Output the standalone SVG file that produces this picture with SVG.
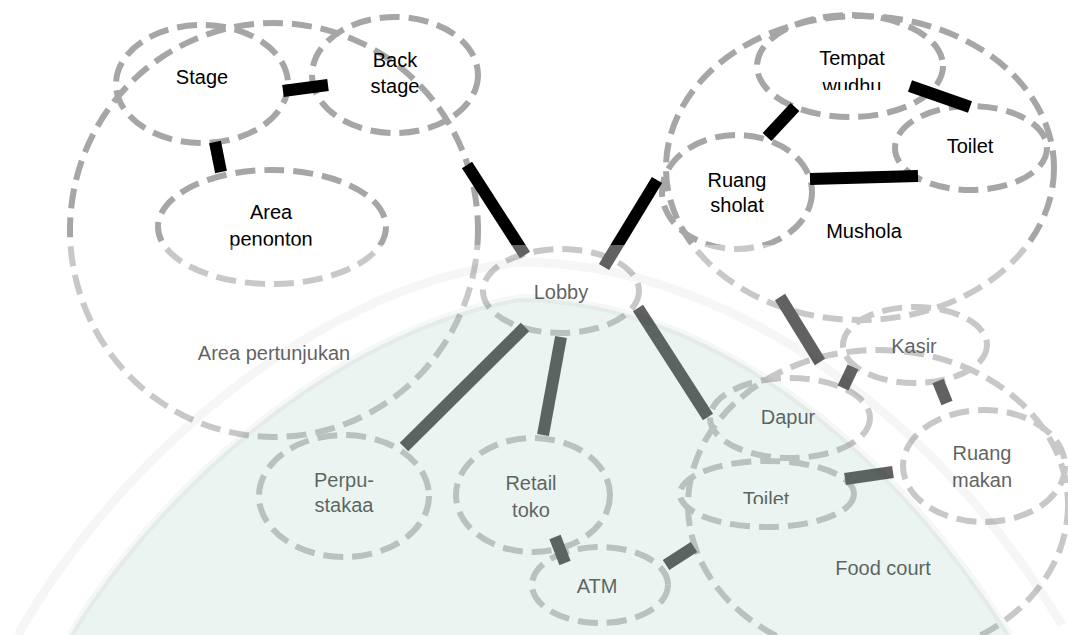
<svg xmlns="http://www.w3.org/2000/svg" width="1068" height="635" viewBox="0 0 1068 635">
  <style>
    .n { fill: none; stroke: #a6a6a6; stroke-width: 6; stroke-dasharray: 20 9; }
    .t { font-family: "Liberation Sans", Arial, sans-serif; font-size: 20px; fill: #000; text-anchor: middle; }
    .c line { stroke: #000; stroke-width: 12; stroke-linecap: butt; }
  </style>
  <defs>
    <clipPath id="clipWudhu"><rect x="780" y="40" width="150" height="50"/></clipPath>
    <clipPath id="clipToilet2"><rect x="700" y="470" width="140" height="34"/></clipPath>
  </defs>
  <rect width="1068" height="635" fill="#ffffff"/>

  <g id="area-pertunjukan">
    <ellipse class="n" cx="274" cy="230" rx="204" ry="207"/>
    <text class="t" x="274" y="360">Area pertunjukan</text>
  </g>
  <g id="mushola">
    <ellipse class="n" cx="860" cy="168" rx="194" ry="152"/>
    <text class="t" x="864" y="238">Mushola</text>
  </g>
  <g id="food-court">
    <ellipse class="n" cx="878" cy="505" rx="190" ry="155"/>
    <text class="t" x="883" y="575">Food court</text>
  </g>

  <g id="stage">
    <ellipse class="n" cx="202" cy="84" rx="86" ry="59"/>
    <text class="t" x="202" y="84">Stage</text>
  </g>
  <g id="back-stage">
    <ellipse class="n" cx="395" cy="75" rx="83" ry="58"/>
    <text class="t" x="395" y="67">Back</text>
    <text class="t" x="395" y="93">stage</text>
  </g>
  <g id="area-penonton">
    <ellipse class="n" cx="272" cy="227" rx="114" ry="57"/>
    <text class="t" x="271" y="219">Area</text>
    <text class="t" x="271" y="246">penonton</text>
  </g>
  <g id="tempat-wudhu">
    <ellipse class="n" cx="850" cy="66" rx="93" ry="51"/>
    <text class="t" x="852" y="65">Tempat</text>
    <text class="t" x="852" y="93" clip-path="url(#clipWudhu)">wudhu</text>
  </g>
  <g id="toilet-mushola">
    <ellipse class="n" cx="971" cy="148" rx="76" ry="42"/>
    <text class="t" x="970" y="153">Toilet</text>
  </g>
  <g id="ruang-sholat">
    <ellipse class="n" cx="737" cy="192" rx="75" ry="57"/>
    <text class="t" x="737" y="187">Ruang</text>
    <text class="t" x="737" y="212">sholat</text>
  </g>
  <g id="lobby">
    <ellipse class="n" cx="561" cy="291" rx="78" ry="42"/>
    <text class="t" x="561" y="299">Lobby</text>
  </g>
  <g id="perpustakaan">
    <ellipse class="n" cx="344" cy="496" rx="85" ry="61"/>
    <text class="t" x="344" y="487">Perpu-</text>
    <text class="t" x="344" y="512">stakaa</text>
  </g>
  <g id="retail-toko">
    <ellipse class="n" cx="533" cy="495" rx="77" ry="57"/>
    <text class="t" x="531" y="490">Retail</text>
    <text class="t" x="531" y="517">toko</text>
  </g>
  <g id="atm">
    <ellipse class="n" cx="600" cy="585" rx="68" ry="38"/>
    <text class="t" x="597" y="593">ATM</text>
  </g>
  <g id="dapur">
    <ellipse class="n" cx="790" cy="418" rx="80" ry="40"/>
    <text class="t" x="788" y="424">Dapur</text>
  </g>
  <g id="toilet-food-court">
    <ellipse class="n" cx="767" cy="494" rx="87" ry="33"/>
    <text class="t" x="766" y="506" clip-path="url(#clipToilet2)">Toilet</text>
  </g>
  <g id="kasir">
    <ellipse class="n" cx="915" cy="345" rx="72" ry="38"/>
    <text class="t" x="914" y="353">Kasir</text>
  </g>
  <g id="ruang-makan">
    <ellipse class="n" cx="984" cy="466" rx="81" ry="56"/>
    <text class="t" x="982" y="460">Ruang</text>
    <text class="t" x="982" y="487">makan</text>
  </g>

  <g id="connectors" class="c">
    <line x1="283" y1="91" x2="328" y2="85"/>
    <line x1="215" y1="142" x2="221" y2="172"/>
    <line x1="467" y1="165" x2="525" y2="255"/>
    <line x1="604" y1="267" x2="657" y2="180"/>
    <line x1="767" y1="137" x2="795" y2="107"/>
    <line x1="910" y1="86" x2="970" y2="107"/>
    <line x1="810" y1="179" x2="918" y2="176"/>
    <line x1="525" y1="327" x2="404" y2="447"/>
    <line x1="561" y1="337" x2="543" y2="435"/>
    <line x1="638" y1="308" x2="708" y2="417"/>
    <line x1="780" y1="297" x2="820" y2="362"/>
    <line x1="853" y1="367" x2="843" y2="388"/>
    <line x1="938" y1="381" x2="947" y2="403"/>
    <line x1="845" y1="479" x2="893" y2="472"/>
    <line x1="555" y1="537" x2="565" y2="563"/>
    <line x1="666" y1="565" x2="694" y2="547"/>
  </g>

  <g id="watermark">
    <rect x="0" y="245" width="1068" height="390" fill="#ffffff" opacity="0.38"/>
    <path d="M 70,635 C 150,500 330,330 520,298 C 700,300 880,430 1010,635 Z" fill="rgb(35,135,85)" opacity="0.09"/>
    <path d="M 70,635 C 150,500 330,330 520,298 C 700,300 880,430 1010,635" fill="none" stroke="#000" stroke-opacity="0.03" stroke-width="8"/>
    <path d="M 18,635 C 110,470 310,285 520,262 C 730,262 940,420 1062,625" fill="none" stroke="#000" stroke-opacity="0.035" stroke-width="9"/>
  </g>
</svg>
